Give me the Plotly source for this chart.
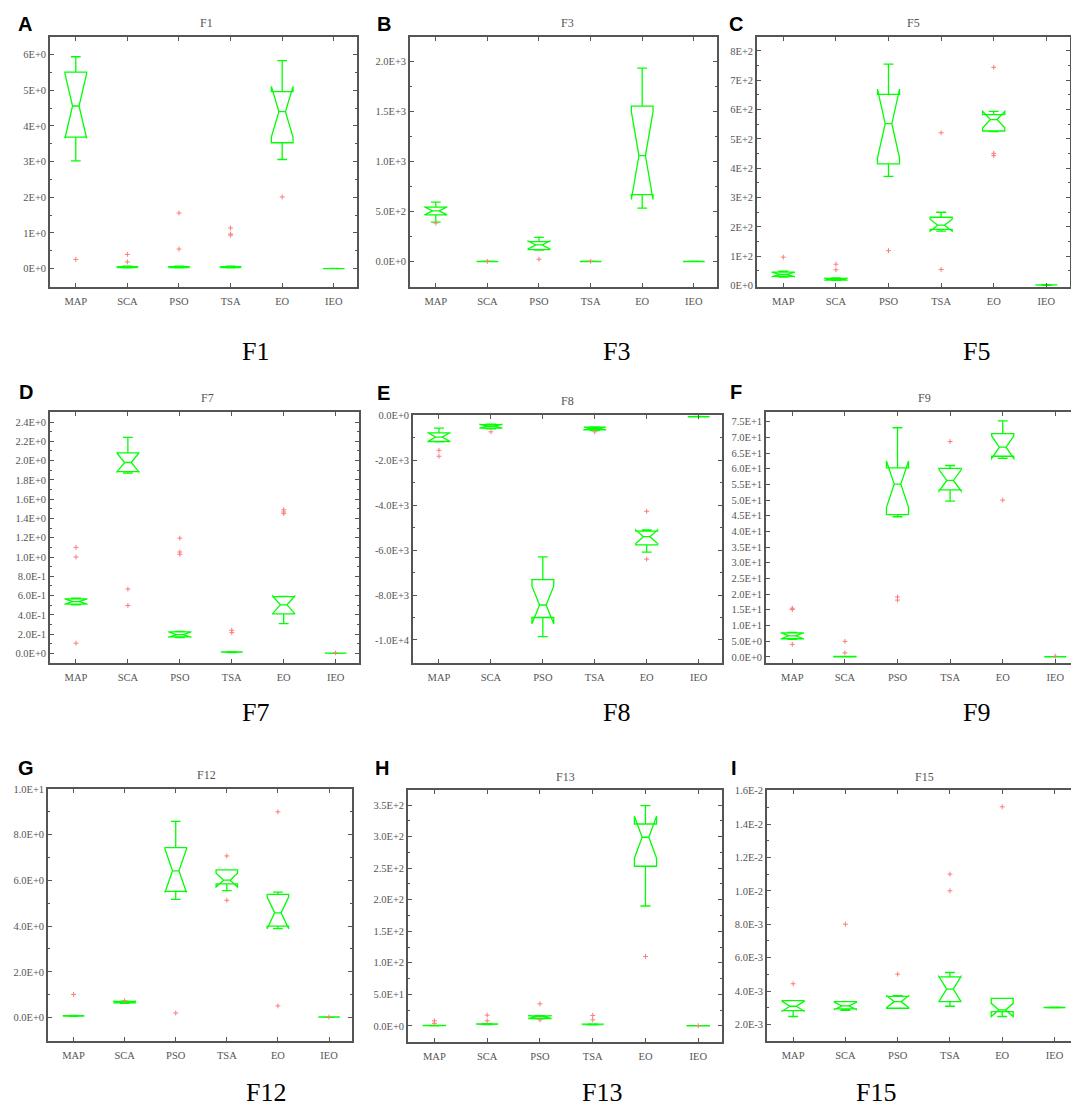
import math
import plotly.graph_objects as go

ALGOS = ["MAP", "SCA", "PSO", "TSA", "EO", "IEO"]
N_RUNS = 10  # runs per algorithm (used for MATLAB-style notch width)

# ---------------- F1 ----------------
F1_lo  = [3.02, 0.02, 0.02, 0.02, 3.06, 0.000]
F1_q1  = [3.69, 0.03, 0.03, 0.03, 3.53, 0.000]
F1_med = [4.56, 0.045, 0.045, 0.045, 4.40, 0.002]
F1_q3  = [5.51, 0.06, 0.06, 0.06, 4.96, 0.004]
F1_hi  = [5.94, 0.07, 0.07, 0.07, 5.83, 0.005]
F1_out_x = ["MAP", "SCA", "SCA", "PSO", "PSO", "TSA", "TSA", "TSA", "EO"]
F1_out_y = [0.26, 0.40, 0.19, 1.56, 0.55, 1.14, 0.97, 0.94, 2.01]
F1_tickvals = [0, 1, 2, 3, 4, 5, 6]
F1_ticktext = ["0E+0", "1E+0", "2E+0", "3E+0", "4E+0", "5E+0", "6E+0"]

# ---------------- F3 ----------------
F3_lo  = [395, 0, 115, 0, 534, 0]
F3_q1  = [468, 0, 119, 0, 670, 0]
F3_med = [507, 1, 166, 1, 1061, 1]
F3_q3  = [544, 2, 199, 2, 1556, 2]
F3_hi  = [594, 3, 242, 3, 1937, 3]
F3_out_x = ["MAP", "SCA", "PSO", "TSA"]
F3_out_y = [385, 2, 23, 2]
F3_tickvals = [0, 500, 1000, 1500, 2000]
F3_ticktext = ["0.0E+0", "5.0E+2", "1.0E+3", "1.5E+3", "2.0E+3"]

# ---------------- F5 ----------------
F5_lo  = [29, 18, 372, 187, 525, 1.0]
F5_q1  = [31.5, 19, 415, 192, 527, 1.5]
F5_med = [38, 22, 552, 206, 566, 2.0]
F5_q3  = [46, 24.7, 652, 233, 583, 2.5]
F5_hi  = [49.5, 26, 755, 250, 594, 3.0]
F5_out_x = ["MAP", "SCA", "SCA", "PSO", "TSA", "TSA", "EO", "EO", "EO"]
F5_out_y = [97, 73, 54, 119, 521, 55, 744, 451, 443]
F5_tickvals = [0, 100, 200, 300, 400, 500, 600, 700, 800]
F5_ticktext = ["0E+0", "1E+2", "2E+2", "3E+2", "4E+2", "5E+2", "6E+2", "7E+2", "8E+2"]

# ---------------- F7 ----------------
F7_lo  = [0.504, 1.870, 0.165, 0.010, 0.309, 0.000]
F7_q1  = [0.511, 1.886, 0.171, 0.012, 0.411, 0.001]
F7_med = [0.538, 1.980, 0.195, 0.014, 0.504, 0.002]
F7_q3  = [0.566, 2.080, 0.223, 0.016, 0.590, 0.003]
F7_hi  = [0.573, 2.240, 0.228, 0.018, 0.590, 0.004]
F7_out_x = ["MAP", "MAP", "MAP", "SCA", "SCA", "PSO", "PSO", "PSO", "TSA", "TSA",
            "EO", "EO", "EO", "IEO"]
F7_out_y = [1.10, 1.00, 0.106, 0.668, 0.497, 1.196, 1.052, 1.028, 0.24, 0.216,
            1.49, 1.467, 1.45, 0.006]
F7_tickvals = [0, 0.2, 0.4, 0.6, 0.8, 1.0, 1.2, 1.4, 1.6, 1.8, 2.0, 2.2, 2.4]
F7_ticktext = ["0.0E+0", "2.0E-1", "4.0E-1", "6.0E-1", "8.0E-1", "1.0E+0", "1.2E+0",
               "1.4E+0", "1.6E+0", "1.8E+0", "2.0E+0", "2.2E+0", "2.4E+0"]

# ---------------- F8 ----------------
F8_lo  = [-1180, -600, -9853, -680, -6094, -70]
F8_q1  = [-1165, -573, -9001, -646, -5771, -65]
F8_med = [-969, -485, -8443, -587, -5404, -59]
F8_q3  = [-778, -411, -7313, -529, -5154, -53]
F8_hi  = [-573, -390, -6300, -510, -5154, -50]
F8_out_x = ["MAP", "MAP", "SCA", "TSA", "EO", "EO"]
F8_out_y = [-1557, -1821, -734, -734, -4273, -6402]
F8_tickvals = [0, -2000, -4000, -6000, -8000, -10000]
F8_ticktext = ["0.0E+0", "-2.0E+3", "-4.0E+3", "-6.0E+3", "-8.0E+3", "-1.0E+4"]

# ---------------- F9 ----------------
F9_lo  = [5.6, 0.00, 44.7, 49.7, 63.4, 0.00]
F9_q1  = [5.77, 0.02, 45.4, 53.3, 64.0, 0.01]
F9_med = [6.71, 0.05, 55.1, 56.3, 66.9, 0.02]
F9_q3  = [7.66, 0.10, 60.3, 60.1, 71.2, 0.03]
F9_hi  = [7.8, 0.15, 73.1, 61.05, 75.3, 0.04]
F9_out_x = ["MAP", "MAP", "MAP", "SCA", "SCA", "PSO", "PSO", "TSA", "EO", "IEO"]
F9_out_y = [15.5, 15.1, 3.99, 4.93, 1.26, 19.1, 18.1, 68.7, 50.0, 0.2]
F9_tickvals = [0, 5, 10, 15, 20, 25, 30, 35, 40, 45, 50, 55, 60, 65, 70, 75]
F9_ticktext = ["0.0E+0", "5.0E+0", "1.0E+1", "1.5E+1", "2.0E+1", "2.5E+1", "3.0E+1",
               "3.5E+1", "4.0E+1", "4.5E+1", "5.0E+1", "5.5E+1", "6.0E+1", "6.5E+1",
               "7.0E+1", "7.5E+1"]

# ---------------- F12 ----------------
F12_lo  = [0.05, 0.62, 5.17, 5.55, 4.00, 0.010]
F12_q1  = [0.06, 0.64, 5.52, 5.85, 4.00, 0.015]
F12_med = [0.07, 0.68, 6.42, 6.01, 4.58, 0.020]
F12_q3  = [0.08, 0.71, 7.43, 6.46, 5.39, 0.025]
F12_hi  = [0.09, 0.72, 8.58, 6.46, 5.49, 0.030]
F12_out_x = ["MAP", "SCA", "PSO", "TSA", "TSA", "EO", "EO", "IEO"]
F12_out_y = [1.01, 0.74, 0.20, 7.07, 5.13, 9.00, 0.51, 0.02]
F12_tickvals = [0, 2, 4, 6, 8, 10]
F12_ticktext = ["0.0E+0", "2.0E+0", "4.0E+0", "6.0E+0", "8.0E+0", "1.0E+1"]

# ---------------- F13 ----------------
F13_lo  = [0.2, 2.0, 11.0, 1.5, 190, 0.0]
F13_q1  = [0.4, 2.3, 11.5, 1.9, 253, 0.05]
F13_med = [0.5, 2.7, 14.2, 2.3, 299, 0.1]
F13_q3  = [0.7, 3.1, 15.7, 2.7, 320, 0.2]
F13_hi  = [0.9, 3.5, 16.0, 3.0, 349, 0.3]
F13_out_x = ["MAP", "MAP", "SCA", "SCA", "PSO", "PSO", "TSA", "TSA", "EO", "IEO"]
F13_out_y = [8.0, 4.0, 17.0, 8.0, 35.0, 9.4, 16.5, 9.6, 110, 0.2]
F13_tickvals = [0, 50, 100, 150, 200, 250, 300, 350]
F13_ticktext = ["0.0E+0", "5.0E+1", "1.0E+2", "1.5E+2", "2.0E+2", "2.5E+2", "3.0E+2", "3.5E+2"]

# ---------------- F15 ----------------
F15_lo  = [0.002475, 0.002851, 0.002970, 0.003089, 0.002772, 0.002990]
F15_q1  = [0.002832, 0.002931, 0.002970, 0.003366, 0.002772, 0.003000]
F15_med = [0.003089, 0.003109, 0.003366, 0.004119, 0.002870, 0.003010]
F15_q3  = [0.003426, 0.003366, 0.003683, 0.004851, 0.003564, 0.003020]
F15_hi  = [0.003426, 0.003366, 0.003683, 0.005109, 0.003564, 0.003030]
F15_out_x = ["MAP", "SCA", "PSO", "TSA", "TSA", "EO"]
F15_out_y = [0.004436, 0.008, 0.00501, 0.0110, 0.0100, 0.01503]
F15_tickvals = [0.002, 0.004, 0.006, 0.008, 0.010, 0.012, 0.014, 0.016]
F15_ticktext = ["2.0E-3", "4.0E-3", "6.0E-3", "8.0E-3", "1.0E-2", "1.2E-2", "1.4E-2", "1.6E-2"]

# ---------------- layout config (pixels) ----------------
W, H = 1079, 1109
panels = [
    dict(name="F1", letter="A", d=(F1_lo, F1_q1, F1_med, F1_q3, F1_hi), ox=F1_out_x, oy=F1_out_y,
         tv=F1_tickvals, tt=F1_ticktext, yr=[-0.5, 6.5], minor=0.5,
         box=(42, 349, 24, 276), title=(198, 10), cap=(248, 342), let=(17, 11)),
    dict(name="F3", letter="B", d=(F3_lo, F3_q1, F3_med, F3_q3, F3_hi), ox=F3_out_x, oy=F3_out_y,
         tv=F3_tickvals, tt=F3_ticktext, yr=[-250, 2250], minor=250,
         box=(402, 709, 24, 276), title=(559, 10), cap=(608, 342), let=(376, 11)),
    dict(name="F5", letter="C", d=(F5_lo, F5_q1, F5_med, F5_q3, F5_hi), ox=F5_out_x, oy=F5_out_y,
         tv=F5_tickvals, tt=F5_ticktext, yr=[-3, 848], minor=50,
         box=(749, 1062, 24, 276), title=(906, 10), cap=(968, 342), let=(728, 11)),
    dict(name="F7", letter="D", d=(F7_lo, F7_q1, F7_med, F7_q3, F7_hi), ox=F7_out_x, oy=F7_out_y,
         tv=F7_tickvals, tt=F7_ticktext, yr=[-0.1, 2.5], minor=0.1,
         box=(42, 351, 403, 656), title=(199, 389), cap=(247, 706), let=(18, 382)),
    dict(name="F8", letter="E", d=(F8_lo, F8_q1, F8_med, F8_q3, F8_hi), ox=F8_out_x, oy=F8_out_y,
         tv=F8_tickvals, tt=F8_ticktext, yr=[-11030, 0], minor=1000,
         box=(405, 714, 406, 656), title=(560, 392), cap=(608, 706), let=(375, 383)),
    dict(name="F9", letter="F", d=(F9_lo, F9_q1, F9_med, F9_q3, F9_hi), ox=F9_out_x, oy=F9_out_y,
         tv=F9_tickvals, tt=F9_ticktext, yr=[-2, 78], minor=None,
         box=(758, 1071, 403, 656), title=(916, 389), cap=(968, 706), let=(728, 382)),
    dict(name="F12", letter="G", d=(F12_lo, F12_q1, F12_med, F12_q3, F12_hi), ox=F12_out_x, oy=F12_out_y,
         tv=F12_tickvals, tt=F12_ticktext, yr=[-1.01, 10.0], minor=1,
         box=(40, 344, 783, 1037), title=(198, 769), cap=(258, 1089), let=(18, 762)),
    dict(name="F13", letter="H", d=(F13_lo, F13_q1, F13_med, F13_q3, F13_hi), ox=F13_out_x, oy=F13_out_y,
         tv=F13_tickvals, tt=F13_ticktext, yr=[-25, 374], minor=25,
         box=(400, 714, 784, 1038), title=(557, 771), cap=(594, 1089), let=(374, 762)),
    dict(name="F15", letter="I", d=(F15_lo, F15_q1, F15_med, F15_q3, F15_hi), ox=F15_out_x, oy=F15_out_y,
         tv=F15_tickvals, tt=F15_ticktext, yr=[0.00103, 0.01604], minor=0.001,
         box=(759, 1070, 784, 1037), title=(916, 771), cap=(868, 1089), let=(726, 762)),
]

GREEN = "#00ff00"
OUT_RED = "#ff7a7a"
FRAME = "#555555"
TICKFONT = dict(family="Liberation Serif, DejaVu Serif, serif", size=10.5, color="#555555")

fig = go.Figure()
annotations = []
layout_axes = {}

for i, p in enumerate(panels):
    k = "" if i == 0 else str(i + 1)
    xa, ya = "x" + k, "y" + k
    lo, q1, med, q3, hi = p["d"]
    notch = [1.57 * (b - a) / math.sqrt(N_RUNS) for a, b in zip(q1, q3)]
    fig.add_trace(go.Box(
        x=ALGOS, q1=q1, median=med, q3=q3, lowerfence=lo, upperfence=hi,
        notchspan=notch, notched=True, notchwidth=0.35, boxpoints=False,
        width=0.42, whiskerwidth=0.45,
        line=dict(color=GREEN, width=1.3), fillcolor="rgba(0,0,0,0)",
        xaxis=xa, yaxis=ya, showlegend=False, hoverinfo="skip"))
    fig.add_trace(go.Scatter(
        x=p["ox"], y=p["oy"], mode="markers",
        marker=dict(symbol="cross-thin", size=3.5, line=dict(color=OUT_RED, width=1)),
        xaxis=xa, yaxis=ya, showlegend=False, hoverinfo="skip"))

    x0, x1, y0, y1 = p["box"]
    xd = [x0 / W, x1 / W]
    yd = [1 - y1 / H, 1 - y0 / H]
    layout_axes["xaxis" + k] = dict(
        domain=xd, anchor=ya, type="category", categoryorder="array", categoryarray=ALGOS,
        range=[-0.5, 5.45], showline=True, linecolor=FRAME, linewidth=1.6, mirror="ticks",
        ticks="inside", ticklen=4, tickwidth=1, tickcolor=FRAME, showgrid=False, zeroline=False,
        tickfont=TICKFONT, ticklabelstandoff=4)
    yax = dict(
        domain=yd, anchor=xa, range=p["yr"], tickmode="array", tickvals=p["tv"], ticktext=p["tt"],
        showline=True, linecolor=FRAME, linewidth=1.6, mirror="ticks",
        ticks="inside", ticklen=4, tickwidth=1, tickcolor=FRAME, showgrid=False, zeroline=False,
        tickfont=TICKFONT)
    if p["minor"]:
        yax["minor"] = dict(ticks="inside", ticklen=2, tickcolor=FRAME, dtick=p["minor"],
                            tick0=0, showgrid=False)
    layout_axes["yaxis" + k] = yax

    tx, ty = p["title"]
    annotations.append(dict(text=p["name"], x=tx / W, y=1 - ty / H, xref="paper", yref="paper",
                            xanchor="center", yanchor="middle", showarrow=False,
                            font=dict(family="Liberation Serif, DejaVu Serif, serif", size=12,
                                      color="#555555")))
    cx, cy = p["cap"]
    annotations.append(dict(text=p["name"], x=cx / W, y=1 - cy / H, xref="paper", yref="paper",
                            xanchor="center", yanchor="middle", showarrow=False,
                            font=dict(family="Liberation Serif, Times New Roman, serif", size=26,
                                      color="#000000")))
    lx, ly = p["let"]
    annotations.append(dict(text="<b>" + p["letter"] + "</b>", x=lx / W, y=1 - ly / H,
                            xref="paper", yref="paper", xanchor="center", yanchor="middle",
                            showarrow=False,
                            font=dict(family="Liberation Sans, Arial, sans-serif", size=20,
                                      color="#000000")))

fig.update_layout(
    width=W, height=H, margin=dict(l=0, r=0, t=0, b=0),
    paper_bgcolor="white", plot_bgcolor="white",
    annotations=annotations, showlegend=False, **layout_axes)

fig.write_html("out.html")
